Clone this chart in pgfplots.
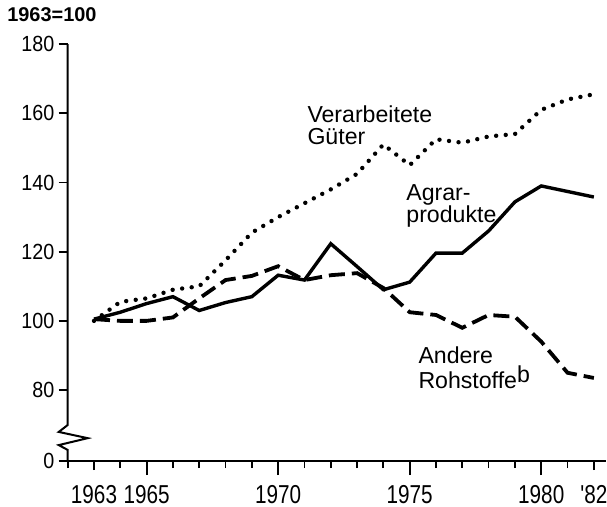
\documentclass[border=0pt]{standalone}
\usepackage{fontspec}
\setmainfont{Liberation Sans}
\newfontfamily\xfont{Liberation Sans}[FakeStretch=0.8]
\newfontfamily\yfont{Liberation Sans}[FakeStretch=0.9]
\usepackage{pgfplots}
\usepackage{pgfplotstable}
\pgfplotsset{compat=1.18}

% index 1963 = 100
\pgfplotstableread{
year  gueter agrar andere
1963  100    100.5 100.5
1964  105.5  102.5 100
1965  106.5  105   100
1966  109    107   101
1967  110    103   106.5
1968  117.5  105.3 111.8
1969  125.5  107   113
1970  130    113.2 115.8
1971  134    111.8 111.8
1972  138    122.3 113.2
1973  142.5  115.7 113.8
1974  151    109   109.5
1975  145    111.2 102.5
1976  152.5  119.6 101.7
1977  151.5  119.6 98
1978  153.3  126   101.7
1979  154    134.4 101.2
1980  161    139   94
1981  164    137.4 85
1982  165.5  135.8 83.5
}\data

\begin{document}
\begin{tikzpicture}
\useasboundingbox (-33.85bp,-23bp) rectangle (269.65bp,230.5bp);
\begin{axis}[
    scale only axis,
    width=269bp, height=208.45bp,
    xmin=1962, xmax=1982.45,
    ymin=59.5, ymax=180,
    axis x line=bottom, axis y line=left,
    axis line style={-, line width=1bp},
    y axis line style={draw=none},
    tick align=outside,
    major tick length=4.5bp, minor tick length=3.5bp,
    tick style={black, line width=0.9bp},
    xtick={1963,1965,1970,1975,1980,1982},
    xticklabels={1963,1965,1970,1975,1980,'82},
    minor xtick={1962,...,1982},
    extra x ticks={1965,1970,1975,1980},
    extra x tick labels={},
    extra tick style={major tick length=7bp},
    ytick={59.5,80,100,120,140,160,180},
    yticklabels={0,80,100,120,140,160,180},
    /pgf/number format/assume math mode=true,
    xticklabel style={font=\xfont\fontsize{13}{13}\selectfont, inner sep=0pt, anchor=north, yshift=-7.5bp},
    yticklabel style={font=\yfont\fontsize{11}{11}\selectfont, inner sep=0pt, anchor=east, xshift=-2bp},
    clip=false,
]
\addplot[black, line width=2.2bp, line cap=round, dash pattern=on 0pt off 4.8bp] table[x=year, y=gueter] {\data};
\addplot[black, line width=1.7bp] table[x=year, y=agrar] {\data};
\addplot[black, line width=1.9bp, dash pattern=on 8bp off 3.5bp] table[x=year, y=andere] {\data};

% y axis with break
\draw[line width=1bp] (axis cs:1962,180) -- (axis cs:1962,69.9) -- (axis cs:1961.66,67.9)
    -- (axis cs:1962.76,66.1) -- (axis cs:1961.66,64.1) -- (axis cs:1962,62.7) -- (axis cs:1962,59.5);

\node[anchor=north west, inner sep=0pt, font=\bfseries\fontsize{10}{10}\selectfont] at (axis cs:1959.69,190.7) {1963=100};
\node[anchor=north west, inner sep=0pt, align=left, font=\fontsize{11.6}{11.2}\selectfont] at (axis cs:1971.1,162.3) {Verarbeitete\\Güter};
\node[anchor=north west, inner sep=0pt, align=left, font=\fontsize{11.6}{11.2}\selectfont] at (axis cs:1974.86,139.5) {Agrar-\\produkte};
\node[anchor=north west, inner sep=0pt, align=left, font=\fontsize{11.6}{11.2}\selectfont] at (axis cs:1975.32,92.6) {Andere\\Rohstoffe\raisebox{3bp}{b}};
\end{axis}
\end{tikzpicture}
\end{document}
